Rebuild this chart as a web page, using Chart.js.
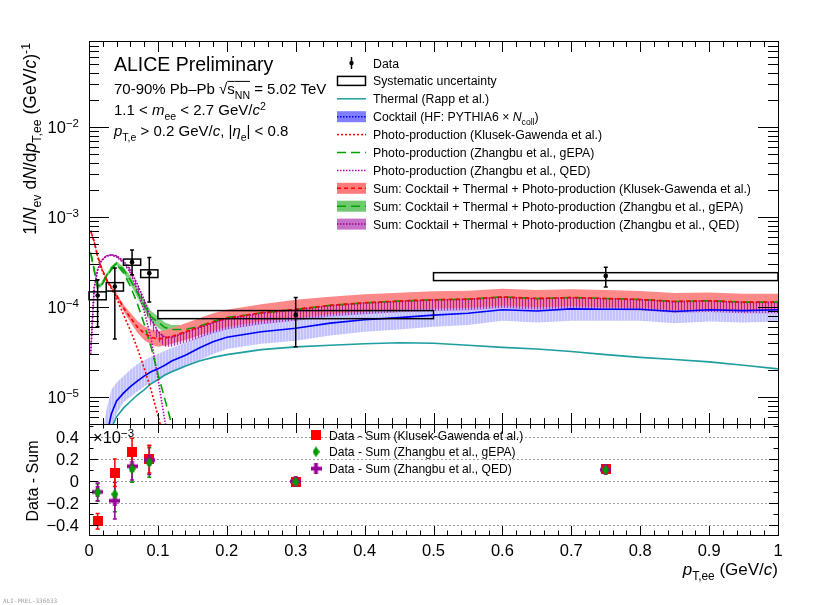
<!DOCTYPE html>
<html>
<head>
<meta charset="utf-8">
<script src="https://cdn.jsdelivr.net/npm/chart.js@4"></script>
<style>
body { margin: 0; background: #fff; }
#wrap { position: relative; width: 822px; height: 605px; }
#wrap canvas { position: absolute; left: 0; top: 0; }
</style>
</head>
<body>
<div id="wrap">
<canvas id="topPad" width="822" height="605"></canvas>
<canvas id="botPad" width="822" height="605"></canvas>
</div>
<script>
const FONT = '"Liberation Sans", Arial, Helvetica, sans-serif';

// pT grid for the model curves (GeV/c)
const pt = [0.0025, 0.0075, 0.0125, 0.0175, 0.025, 0.0325, 0.04, 0.05, 0.06, 0.07,
    0.08, 0.09, 0.1, 0.11, 0.12, 0.14, 0.16, 0.18, 0.2, 0.25,
    0.3, 0.35, 0.4, 0.45, 0.5, 0.55, 0.6, 0.65, 0.7, 0.75,
    0.8, 0.85, 0.9, 0.95, 1.0];

const thermal = [null, null, null, null, 2.5e-6, 4.5e-6, 6.0e-6, 7.5e-6, 8.9e-6, 1.05e-5,
    1.2e-5, 1.4e-5, 1.55e-5, 1.75e-5, 1.9e-5, 2.2e-5, 2.5e-5, 2.75e-5, 2.95e-5, 3.35e-5,
    3.6e-5, 3.75e-5, 3.9e-5, 4.0e-5, 3.95e-5, 3.75e-5, 3.55e-5, 3.4e-5, 3.2e-5, 2.95e-5,
    2.75e-5, 2.6e-5, 2.45e-5, 2.25e-5, 2.05e-5];

const cocktail = [null, null, null, 1.5e-6, 3.5e-6, 6.5e-6, 9.0e-6, 1.1e-5, 1.3e-5, 1.5e-5,
    1.7e-5, 1.9e-5, 2.05e-5, 2.25e-5, 2.5e-5, 2.9e-5, 3.5e-5, 4.1e-5, 4.6e-5, 5.3e-5,
    5.8e-5, 6.6e-5, 7.2e-5, 7.6e-5, 8.1e-5, 8.5e-5, 9.3e-5, 9.0e-5, 9.5e-5, 9.4e-5,
    9.4e-5, 8.9e-5, 9.3e-5, 9.1e-5, 9.3e-5];
const cocktailHi = [null, null, null, 3.0e-6, 7.0e-6, 1.2e-5, 1.45e-5, 1.7e-5, 2.0e-5, 2.3e-5,
    2.55e-5, 2.8e-5, 3.0e-5, 3.25e-5, 3.5e-5, 4.0e-5, 4.7e-5, 5.5e-5, 6.1e-5, 7.0e-5,
    7.7e-5, 8.6e-5, 9.2e-5, 9.5e-5, 9.8e-5, 1.02e-4, 1.13e-4, 1.08e-4, 1.14e-4, 1.13e-4,
    1.13e-4, 1.07e-4, 1.12e-4, 1.09e-4, 1.12e-4];
const cocktailLo = [null, null, null, 1.0e-6, 2.0e-6, 4.0e-6, 6.5e-6, 8.7e-6, 1.0e-5, 1.15e-5,
    1.3e-5, 1.45e-5, 1.55e-5, 1.7e-5, 1.85e-5, 2.15e-5, 2.55e-5, 3.0e-5, 3.4e-5, 3.9e-5,
    4.2e-5, 4.8e-5, 5.3e-5, 5.6e-5, 6.0e-5, 6.3e-5, 7.0e-5, 6.7e-5, 7.0e-5, 7.0e-5,
    7.0e-5, 6.6e-5, 6.9e-5, 6.7e-5, 6.9e-5];

const photoK = [7.0e-4, 5.3e-4, 3.6e-4, 2.7e-4, 2.0e-4, 1.6e-4, 1.25e-4, 8.2e-5, 5.5e-5, 3.5e-5,
    2.1e-5, 1.2e-5, 6.2e-6, 3.2e-6, null, null, null, null, null, null,
    null, null, null, null, null, null, null, null, null, null,
    null, null, null, null, null];
const photoG = [4.0e-4, 2.55e-4, 1.6e-4, 1.7e-4, 2.1e-4, 2.6e-4, 2.95e-4, 2.4e-4, 1.7e-4, 1.1e-4,
    6.5e-5, 3.6e-5, 1.8e-5, 9.5e-6, 5.0e-6, 1.5e-6, null, null, null, null,
    null, null, null, null, null, null, null, null, null, null,
    null, null, null, null, null];
const photoQ = [3.0e-5, 1.6e-4, 2.55e-4, 3.2e-4, 3.65e-4, 3.75e-4, 3.6e-4, 3.1e-4, 2.4e-4, 1.55e-4,
    9.0e-5, 4.5e-5, 1.6e-5, 5.5e-6, 2.0e-6, null, null, null, null, null,
    null, null, null, null, null, null, null, null, null, null,
    null, null, null, null, null];

const sumK = [7.0e-4, 5.3e-4, 3.7e-4, 2.8e-4, 2.05e-4, 1.65e-4, 1.35e-4, 9.8e-5, 7.6e-5, 6.0e-5,
    5.1e-5, 4.6e-5, 4.4e-5, 4.5e-5, 4.7e-5, 5.3e-5, 6.0e-5, 6.8e-5, 7.5e-5, 8.6e-5,
    9.4e-5, 1.04e-4, 1.11e-4, 1.16e-4, 1.2e-4, 1.22e-4, 1.29e-4, 1.24e-4, 1.27e-4, 1.24e-4,
    1.21e-4, 1.15e-4, 1.17e-4, 1.13e-4, 1.13e-4];
const sumKHi = [7.2e-4, 5.45e-4, 3.8e-4, 2.9e-4, 2.12e-4, 1.72e-4, 1.42e-4, 1.06e-4, 8.6e-5, 7.0e-5,
    6.1e-5, 5.6e-5, 5.4e-5, 5.5e-5, 5.8e-5, 6.6e-5, 7.5e-5, 8.5e-5, 9.3e-5, 1.07e-4,
    1.2e-4, 1.3e-4, 1.38e-4, 1.44e-4, 1.49e-4, 1.51e-4, 1.59e-4, 1.54e-4, 1.57e-4, 1.54e-4,
    1.5e-4, 1.43e-4, 1.45e-4, 1.4e-4, 1.4e-4];
const sumKLo = [6.8e-4, 5.15e-4, 3.6e-4, 2.7e-4, 1.98e-4, 1.58e-4, 1.28e-4, 9.0e-5, 6.8e-5, 5.2e-5,
    4.3e-5, 3.8e-5, 3.6e-5, 3.7e-5, 3.9e-5, 4.3e-5, 4.8e-5, 5.4e-5, 6.0e-5, 6.9e-5,
    7.5e-5, 8.3e-5, 8.9e-5, 9.3e-5, 9.6e-5, 9.8e-5, 1.03e-4, 9.9e-5, 1.02e-4, 9.9e-5,
    9.7e-5, 9.2e-5, 9.4e-5, 9.0e-5, 9.0e-5];

const sumG = [4.0e-4, 2.6e-4, 1.7e-4, 1.75e-4, 2.2e-4, 2.7e-4, 3.05e-4, 2.6e-4, 2.0e-4, 1.45e-4,
    1.05e-4, 7.8e-5, 6.8e-5, 5.9e-5, 5.6e-5, 5.6e-5, 6.1e-5, 6.9e-5, 7.6e-5, 8.6e-5,
    9.4e-5, 1.04e-4, 1.11e-4, 1.16e-4, 1.2e-4, 1.22e-4, 1.29e-4, 1.24e-4, 1.27e-4, 1.24e-4,
    1.21e-4, 1.15e-4, 1.17e-4, 1.13e-4, 1.13e-4];
const sumGHi = [4.1e-4, 2.7e-4, 1.78e-4, 1.85e-4, 2.32e-4, 2.85e-4, 3.2e-4, 2.8e-4, 2.2e-4, 1.62e-4,
    1.2e-4, 9.0e-5, 7.8e-5, 6.7e-5, 6.3e-5, 6.3e-5, 6.9e-5, 7.8e-5, 8.6e-5, 9.9e-5,
    1.08e-4, 1.19e-4, 1.27e-4, 1.33e-4, 1.37e-4, 1.4e-4, 1.48e-4, 1.42e-4, 1.45e-4, 1.42e-4,
    1.39e-4, 1.32e-4, 1.34e-4, 1.3e-4, 1.3e-4];
const sumGLo = [3.9e-4, 2.5e-4, 1.62e-4, 1.65e-4, 2.08e-4, 2.55e-4, 2.9e-4, 2.4e-4, 1.8e-4, 1.28e-4,
    9.2e-5, 6.8e-5, 5.9e-5, 5.1e-5, 4.8e-5, 4.8e-5, 5.3e-5, 6.0e-5, 6.6e-5, 7.5e-5,
    8.2e-5, 9.1e-5, 9.7e-5, 1.01e-4, 1.05e-4, 1.07e-4, 1.13e-4, 1.09e-4, 1.11e-4, 1.09e-4,
    1.06e-4, 1.01e-4, 1.03e-4, 9.9e-5, 9.9e-5];

const sumQ = [3.2e-5, 1.65e-4, 2.6e-4, 3.25e-4, 3.7e-4, 3.8e-4, 3.7e-4, 3.25e-4, 2.6e-4, 1.8e-4,
    1.2e-4, 7.5e-5, 5.3e-5, 4.6e-5, 4.6e-5, 5.2e-5, 5.9e-5, 6.7e-5, 7.4e-5, 8.5e-5,
    9.3e-5, 1.03e-4, 1.1e-4, 1.15e-4, 1.19e-4, 1.21e-4, 1.28e-4, 1.23e-4, 1.26e-4, 1.23e-4,
    1.2e-4, 1.14e-4, 1.16e-4, 1.12e-4, 1.12e-4];
const sumQHi = [3.3e-5, 1.7e-4, 2.65e-4, 3.3e-4, 3.75e-4, 3.85e-4, 3.75e-4, 3.3e-4, 2.65e-4, 1.84e-4,
    1.22e-4, 7.6e-5, 5.4e-5, 4.7e-5, 4.7e-5, 5.3e-5, 6.0e-5, 6.8e-5, 7.5e-5, 8.7e-5,
    9.5e-5, 1.05e-4, 1.12e-4, 1.17e-4, 1.21e-4, 1.23e-4, 1.3e-4, 1.25e-4, 1.28e-4, 1.25e-4,
    1.22e-4, 1.16e-4, 1.18e-4, 1.14e-4, 1.14e-4];
const sumQLo = [3.1e-5, 1.6e-4, 2.55e-4, 3.2e-4, 3.6e-4, 3.7e-4, 3.55e-4, 3.05e-4, 2.35e-4, 1.55e-4,
    9.8e-5, 6.0e-5, 4.2e-5, 3.6e-5, 3.6e-5, 4.0e-5, 4.5e-5, 5.1e-5, 5.6e-5, 6.4e-5,
    7.0e-5, 7.8e-5, 8.3e-5, 8.7e-5, 9.0e-5, 9.2e-5, 9.7e-5, 9.3e-5, 9.5e-5, 9.3e-5,
    9.1e-5, 8.6e-5, 8.8e-5, 8.5e-5, 8.5e-5];

// measured spectrum
const dataX = [0.0125, 0.0375, 0.0625, 0.0875, 0.3, 0.75];
const dataY = [1.34e-4, 1.68e-4, 3.14e-4, 2.37e-4, 8.15e-5, 2.21e-4];
const statHi = [2.0e-4, 2.7e-4, 4.3e-4, 3.53e-4, 1.27e-4, 2.76e-4];
const statLo = [6.0e-5, 4.4e-5, 2.27e-4, 1.13e-4, 3.6e-5, 1.66e-4];
const sysHi = [1.47e-4, 1.86e-4, 3.4e-4, 2.58e-4, 9.1e-5, 2.4e-4];
const sysLo = [1.2e-4, 1.5e-4, 2.9e-4, 2.12e-4, 7.4e-5, 1.96e-4];
const binLo = [0, 0.025, 0.05, 0.075, 0.1, 0.5];
const binHi = [0.025, 0.05, 0.075, 0.1, 0.5, 1.0];

// Data - Sum (x 10^-3)
const diffK = [-0.366, 0.073, 0.265, 0.197, -0.01, 0.105];
const errK = [0.07, 0.125, 0.12, 0.125, 0.03, 0.03];
const diffG = [-0.105, -0.12, 0.108, 0.167, -0.01, 0.10];
const errG = [0.08, 0.16, 0.12, 0.133, 0.03, 0.03];
const diffQ = [-0.10, -0.18, 0.132, 0.188, -0.005, 0.10];
const errQ = [0.08, 0.165, 0.125, 0.13, 0.03, 0.03];

// axis ticks
const xTickVals = [0, 0.1, 0.2, 0.3, 0.4, 0.5, 0.6, 0.7, 0.8, 0.9, 1];
const xTickLabels = ['0', '0.1', '0.2', '0.3', '0.4', '0.5', '0.6', '0.7', '0.8', '0.9', '1'];
const yTopTickVals = [1e-5, 1e-4, 1e-3, 1e-2];
const yTopTickLabels = ['10{^:\u22125}', '10{^:\u22124}', '10{^:\u22123}', '10{^:\u22122}'];
const yBotTickVals = [-0.4, -0.2, 0, 0.2, 0.4];
const yBotTickLabels = ['\u22120.4', '\u22120.2', '0', '0.2', '0.4'];

const legendLabels = ['Data', 'Systematic uncertainty', 'Thermal (Rapp et al.)',
    'Cocktail (HF: PYTHIA6 \u00d7 {i:N}{_:coll})',
    'Photo-production (Klusek-Gawenda et al.)',
    'Photo-production (Zhangbu et al., gEPA)',
    'Photo-production (Zhangbu et al., QED)',
    'Sum: Cocktail + Thermal + Photo-production (Klusek-Gawenda et al.)',
    'Sum: Cocktail + Thermal + Photo-production (Zhangbu et al., gEPA)',
    'Sum: Cocktail + Thermal + Photo-production (Zhangbu et al., QED)'];
const diffLabels = ['Data - Sum (Klusek-Gawenda et al.)', 'Data - Sum (Zhangbu et al., gEPA)', 'Data - Sum (Zhangbu et al., QED)'];

const C_TEAL = '#1e9e9e', C_BLUE = '#0000ff', C_RED = '#ff0000', C_GREEN = '#00a300',
    C_PURPLE = '#b800b8', C_PURPLE_S = '#990099', C_DGREEN = '#009900';

// ---------- helpers ----------
function parseRich(str) {
    const parts = [];
    const re = /\{([io_^]*):([^}]*)\}|([^{]+)/g;
    let m;
    while ((m = re.exec(str))) {
        if (m[3] !== undefined) parts.push({ t: m[3] });
        else parts.push({ t: m[2], i: m[1].includes('i'), sub: m[1].includes('_'), sup: m[1].includes('^'), ov: m[1].includes('o') });
    }
    return parts;
}
function fontFor(p, size) {
    const s = (p.sub || p.sup) ? size * 0.7 : size;
    return (p.i ? 'italic ' : '') + s.toFixed(1) + 'px ' + FONT;
}
function richWidth(ctx, str, size) {
    let w = 0;
    for (const p of parseRich(str)) { ctx.font = fontFor(p, size); w += ctx.measureText(p.t).width; }
    return w;
}
function drawRich(ctx, str, x, y, size, align) {
    const w = richWidth(ctx, str, size);
    if (align === 'right') x -= w; else if (align === 'center') x -= w / 2;
    ctx.textAlign = 'left';
    ctx.textBaseline = 'alphabetic';
    for (const p of parseRich(str)) {
        ctx.font = fontFor(p, size);
        const dy = p.sub ? size * 0.3 : p.sup ? -size * 0.36 : 0;
        ctx.fillText(p.t, x, y + dy);
        const pw = ctx.measureText(p.t).width;
        if (p.ov) {
            ctx.save();
            ctx.lineWidth = 1;
            ctx.strokeStyle = ctx.fillStyle;
            ctx.beginPath();
            ctx.moveTo(x, y - size * 0.84);
            ctx.lineTo(x + pw, y - size * 0.84);
            ctx.stroke();
            ctx.restore();
        }
        x += pw;
    }
}
function makeCanvas(w, h, paint) {
    const c = document.createElement('canvas');
    c.width = w; c.height = h;
    paint(c.getContext('2d'));
    return c;
}
const padCtx = document.getElementById('topPad').getContext('2d');
const bluePat = padCtx.createPattern(makeCanvas(3, 3, c => {
    c.fillStyle = 'rgba(110,110,255,0.42)'; c.fillRect(0, 0, 3, 3);
    c.fillStyle = 'rgba(255,255,255,0.35)'; c.fillRect(0, 0, 1, 3);
}), 'repeat');
const purplePat = padCtx.createPattern(makeCanvas(3, 3, c => {
    c.fillStyle = 'rgba(150,0,150,0.75)'; c.fillRect(0, 0, 1, 3);
    c.fillStyle = 'rgba(200,90,200,0.25)'; c.fillRect(1, 0, 2, 3);
}), 'repeat');

const redSquare = makeCanvas(10, 10, c => { c.fillStyle = C_RED; c.fillRect(0, 0, 10, 10); });
const greenDiamond = makeCanvas(7, 11, c => {
    c.fillStyle = C_DGREEN; c.beginPath();
    c.moveTo(3.5, 0); c.lineTo(7, 5.5); c.lineTo(3.5, 11); c.lineTo(0, 5.5); c.closePath(); c.fill();
});
const purpleCross = makeCanvas(11, 11, c => {
    c.fillStyle = C_PURPLE_S; c.fillRect(3.6, 0, 3.8, 11); c.fillRect(0, 3.6, 11, 3.8);
});

const ptsOf = ys => pt.map((x, i) => ({ x: x, y: ys[i] }));

function lineSet(ys, color, width, dash, order) {
    return { data: ptsOf(ys), borderColor: color, borderWidth: width, borderDash: dash,
        pointRadius: 0, pointHoverRadius: 0, tension: 0, fill: false, order: order };
}
function edgeSet(ys) {
    return { data: ptsOf(ys), borderColor: 'rgba(0,0,0,0)', borderWidth: 0, showLine: false,
        pointRadius: 0, pointHoverRadius: 0, tension: 0, fill: false, order: 30 };
}

// ---------- top pad ----------
const topSets = [];
function addBand(lo, hi, bg, order) {
    topSets.push(edgeSet(lo));
    const target = topSets.length - 1;
    const ds = edgeSet(hi);
    ds.fill = { target: target };
    ds.backgroundColor = bg;
    ds.order = order;
    topSets.push(ds);
}
addBand(cocktailLo, cocktailHi, bluePat, 20);
addBand(sumGLo, sumGHi, '#80d080', 19);
addBand(sumKLo, sumKHi, '#ff8888', 18);
addBand(sumQLo, sumQHi, purplePat, 17);
topSets.push(lineSet(thermal, C_TEAL, 1.6, [], 12));
topSets.push(lineSet(cocktail, C_BLUE, 1.6, [], 11));
topSets.push(lineSet(photoK, C_RED, 1.6, [2, 2], 9));
topSets.push(lineSet(photoG, C_GREEN, 1.6, [9, 5], 9));
topSets.push(lineSet(photoQ, C_PURPLE, 1.6, [1.5, 1.5], 9));
topSets.push(lineSet(sumK, C_RED, 1.6, [4, 3], 6));
topSets.push(lineSet(sumG, C_GREEN, 1.6, [9, 5], 6));
topSets.push(lineSet(sumQ, C_PURPLE_S, 1.6, [1.5, 1.5], 6));
topSets.push({ data: dataX.map((x, i) => ({ x: x, y: dataY[i] })), showLine: false,
    pointRadius: 2.3, pointHoverRadius: 2.3, pointBackgroundColor: '#000', pointBorderWidth: 0, order: 1 });

function strokeTicks(ctx, segs) {
    ctx.beginPath();
    for (const s of segs) { ctx.moveTo(s[0], s[1]); ctx.lineTo(s[2], s[3]); }
    ctx.stroke();
}

const topDecor = {
    id: 'topDecor',
    afterDatasetsDraw(chart) {
        const ctx = chart.ctx, x = chart.scales.x, y = chart.scales.y;
        ctx.save();
        ctx.strokeStyle = '#000';
        ctx.lineWidth = 1.5;
        for (let i = 0; i < dataX.length; i++) {
            const l = x.getPixelForValue(binLo[i]), r = x.getPixelForValue(binHi[i]);
            const t = y.getPixelForValue(sysHi[i]), b = y.getPixelForValue(sysLo[i]);
            ctx.strokeRect(l, t, r - l, b - t);
        }
        const segs = [];
        for (let i = 0; i < dataX.length; i++) {
            const px = x.getPixelForValue(dataX[i]);
            const t = y.getPixelForValue(statHi[i]), b = y.getPixelForValue(statLo[i]);
            segs.push([px, t, px, b], [px - 2, t, px + 2, t], [px - 2, b, px + 2, b]);
        }
        strokeTicks(ctx, segs);
        ctx.restore();
    },
    afterDraw(chart) {
        const ctx = chart.ctx, a = chart.chartArea, x = chart.scales.x, y = chart.scales.y;
        ctx.save();
        ctx.strokeStyle = '#000';
        ctx.fillStyle = '#000';
        ctx.lineWidth = 1;
        ctx.strokeRect(a.left + 0.5, a.top + 0.5, a.right - a.left, a.bottom - a.top);
        const segs = [];
        for (let k = 0; k <= 50; k++) {
            const px = Math.round(x.getPixelForValue(k / 50)) + 0.5;
            const len = k % 5 === 0 ? 11 : 6;
            segs.push([px, a.bottom, px, a.bottom - len], [px, a.top, px, a.top + len]);
        }
        for (let d = -6; d <= -1; d++) {
            for (let m = 1; m <= 9; m++) {
                const v = m * Math.pow(10, d);
                if (v < y.min || v > y.max) continue;
                const py = Math.round(y.getPixelForValue(v)) + 0.5;
                const len = m === 1 ? 20 : 10;
                segs.push([a.left, py, a.left + len, py], [a.right, py, a.right - len, py]);
            }
        }
        strokeTicks(ctx, segs);

        yTopTickVals.forEach((v, i) => drawRich(ctx, yTopTickLabels[i], 79, y.getPixelForValue(v) + 6, 16.5, 'right'));

        // y title
        ctx.save();
        ctx.translate(36, 43);
        ctx.rotate(-Math.PI / 2);
        drawRich(ctx, '1/{i:N}{_:ev} d{i:N}/d{i:p}{_:T,ee} (GeV/{i:c}){^:-1}', 0, 0, 17.6, 'right');
        ctx.restore();

        // labels
        drawRich(ctx, 'ALICE Preliminary', 114, 71, 19.5);
        drawRich(ctx, '70-90% Pb\u2013Pb \u221a{o:s}{o_:NN} = 5.02 TeV', 114, 94, 15);
        drawRich(ctx, '1.1 < {i:m}{_:ee} < 2.7 GeV/{i:c}{^:2}', 114, 115, 15);
        drawRich(ctx, '{i:p}{_:T,e} > 0.2 GeV/{i:c}, |{i:\u03b7}{_:e}| < 0.8', 114, 136, 15);

        // legend
        const rows = [
            { k: 'data' }, { k: 'box' },
            { k: 'line', c: C_TEAL, d: [] },
            { k: 'band', f: 'rgba(95,95,255,0.8)', c: C_BLUE, d: [1.5, 1.5] },
            { k: 'line', c: C_RED, d: [2, 2] },
            { k: 'line', c: C_GREEN, d: [9, 5] },
            { k: 'line', c: C_PURPLE, d: [1.5, 1.5] },
            { k: 'band', f: '#ff7a7a', c: C_RED, d: [4, 3] },
            { k: 'band', f: '#70c870', c: C_GREEN, d: [9, 5] },
            { k: 'band', f: '#c870c8', c: C_PURPLE_S, d: [1.5, 1.5] }
        ];
        rows.forEach((r, i) => {
            const cy = 63 + i * 17.9;
            ctx.save();
            ctx.lineWidth = 1.5;
            if (r.k === 'data') {
                ctx.strokeStyle = '#000';
                strokeTicks(ctx, [[351.5, cy - 6, 351.5, cy + 6]]);
                ctx.beginPath(); ctx.arc(351.5, cy, 2.2, 0, Math.PI * 2); ctx.fill();
            } else if (r.k === 'box') {
                ctx.strokeStyle = '#000';
                ctx.strokeRect(337.5, cy - 4.5, 28, 9);
            } else {
                if (r.k === 'band') { ctx.fillStyle = r.f; ctx.fillRect(337, cy - 5.5, 29, 11); }
                ctx.strokeStyle = r.c;
                ctx.setLineDash(r.d);
                strokeTicks(ctx, [[337, cy, 366, cy]]);
            }
            ctx.restore();
            drawRich(ctx, legendLabels[i], 373, cy + 4.5, 12.3);
        });
        ctx.restore();
    }
};

new Chart(document.getElementById('topPad'), {
    type: 'line',
    data: { datasets: topSets },
    options: {
        responsive: false, animation: false, events: [],
        layout: { padding: { left: 89, right: 44, top: 41, bottom: 181 } },
        plugins: { legend: { display: false }, tooltip: { enabled: false } },
        scales: {
            x: { type: 'linear', min: 0, max: 1, display: false },
            y: { type: 'logarithmic', min: 5e-6, max: 0.09, display: false }
        }
    },
    plugins: [topDecor]
});

// ---------- bottom pad ----------
const diffSeries = [
    { vals: diffK, err: errK, img: redSquare, color: C_RED, order: 3 },
    { vals: diffQ, err: errQ, img: purpleCross, color: C_PURPLE_S, order: 2 },
    { vals: diffG, err: errG, img: greenDiamond, color: C_DGREEN, order: 1 }
];

const botDecor = {
    id: 'botDecor',
    beforeDatasetsDraw(chart) {
        const ctx = chart.ctx, a = chart.chartArea, x = chart.scales.x, y = chart.scales.y;
        ctx.save();
        ctx.strokeStyle = '#9a9a9a';
        ctx.lineWidth = 1;
        ctx.setLineDash([2, 2]);
        strokeTicks(ctx, yBotTickVals.map(v => {
            const py = Math.round(y.getPixelForValue(v)) + 0.5;
            return [a.left, py, a.right, py];
        }));
        ctx.setLineDash([]);
        ctx.lineWidth = 1.5;
        diffSeries.slice().reverse().forEach(s => {
            ctx.strokeStyle = s.color;
            const segs = [];
            dataX.forEach((xv, i) => {
                const px = x.getPixelForValue(xv);
                const t = y.getPixelForValue(s.vals[i] + s.err[i]), b = y.getPixelForValue(s.vals[i] - s.err[i]);
                segs.push([px, t, px, b], [px - 2, t, px + 2, t], [px - 2, b, px + 2, b]);
            });
            strokeTicks(ctx, segs);
        });
        ctx.restore();
    },
    afterDraw(chart) {
        const ctx = chart.ctx, a = chart.chartArea, x = chart.scales.x, y = chart.scales.y;
        ctx.save();
        ctx.strokeStyle = '#000';
        ctx.fillStyle = '#000';
        ctx.lineWidth = 1;
        ctx.strokeRect(a.left + 0.5, a.top + 0.5, a.right - a.left, a.bottom - a.top);
        const segs = [];
        for (let k = 0; k <= 50; k++) {
            const px = Math.round(x.getPixelForValue(k / 50)) + 0.5;
            const len = k % 5 === 0 ? 9 : 4.5;
            segs.push([px, a.bottom, px, a.bottom - len], [px, a.top, px, a.top + len]);
        }
        for (let k = -4; k <= 5; k++) {
            const v = k / 10;
            if (v < y.min || v > y.max) continue;
            const py = Math.round(y.getPixelForValue(v)) + 0.5;
            const len = k % 2 === 0 ? 9 : 4.5;
            segs.push([a.left, py, a.left + len, py], [a.right, py, a.right - len, py]);
        }
        strokeTicks(ctx, segs);

        xTickVals.forEach((v, i) => drawRich(ctx, xTickLabels[i], x.getPixelForValue(v), 556, 16.5, 'center'));
        yBotTickVals.forEach((v, i) => drawRich(ctx, yBotTickLabels[i], 79, y.getPixelForValue(v) + 6, 16.5, 'right'));
        drawRich(ctx, '\u00d710{^:\u22123}', 93, 443, 16.5);
        drawRich(ctx, '{i:p}{_:T,ee} (GeV/{i:c})', 778, 575, 17, 'right');

        ctx.save();
        ctx.translate(38, 481);
        ctx.rotate(-Math.PI / 2);
        drawRich(ctx, 'Data - Sum', 0, 0, 16, 'center');
        ctx.restore();

        // legend
        const imgs = [redSquare, greenDiamond, purpleCross];
        diffLabels.forEach((t, i) => {
            const cy = 435 + i * 16.8;
            const im = imgs[i];
            ctx.drawImage(im, 316 - im.width / 2, cy - im.height / 2);
            drawRich(ctx, t, 329, cy + 4.5, 12.1);
        });

        ctx.fillStyle = '#a0a0a0';
        ctx.font = '6px "DejaVu Sans Mono", monospace';
        ctx.textAlign = 'left';
        ctx.fillText('ALI-PREL-336033', 3, 603);
        ctx.restore();
    }
};

new Chart(document.getElementById('botPad'), {
    type: 'line',
    data: {
        datasets: diffSeries.map(s => ({
            data: dataX.map((x, i) => ({ x: x, y: s.vals[i] })),
            showLine: false, pointStyle: s.img, pointRadius: 5, pointHoverRadius: 5, order: s.order
        }))
    },
    options: {
        responsive: false, animation: false, events: [],
        layout: { padding: { left: 89, right: 44, top: 424, bottom: 70 } },
        plugins: { legend: { display: false }, tooltip: { enabled: false } },
        scales: {
            x: { type: 'linear', min: 0, max: 1, display: false },
            y: { type: 'linear', min: -0.49, max: 0.515, display: false }
        }
    },
    plugins: [botDecor]
});
</script>
</body>
</html>
